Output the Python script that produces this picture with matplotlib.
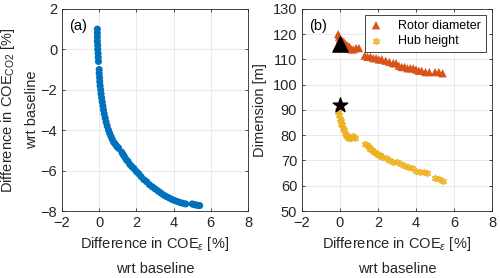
import numpy as np
import matplotlib.pyplot as plt

plt.rcParams['font.family'] = ['Liberation Sans', 'DejaVu Sans']
plt.rcParams['mathtext.fontset'] = 'custom'
plt.rcParams['mathtext.rm'] = 'Liberation Sans'
plt.rcParams['mathtext.it'] = 'Liberation Sans:italic'

# (a) COE_eur vs COE_CO2 difference
coe_eur_a = [-0.1, -0.1, -0.1, -0.1, -0.08, -0.08, -0.06, -0.05, -0.04,
             0.0, 0.0, 0.02, 0.03, 0.05, 0.08, 0.1, 0.13, 0.16, 0.2, 0.23, 0.27,
             0.32, 0.37, 0.43, 0.5, 0.56, 0.63, 0.7, 0.78, 0.87, 0.95, 1.0, 1.05,
             1.22, 1.28, 1.35, 1.45, 1.55, 1.65, 1.75, 1.87, 2.0, 2.12, 2.25, 2.4,
             2.55, 2.7, 2.85, 3.0, 3.15, 3.3, 3.45, 3.6, 3.75, 3.9, 4.05, 4.2,
             4.35, 4.5, 4.65, 5.0, 5.1, 5.2, 5.3, 5.4]
coe_co2_a = [1.0, 0.8, 0.6, 0.4, 0.2, 0.0, -0.2, -0.4, -0.6,
             -1.0, -1.2, -1.4, -1.6, -1.8, -2.0, -2.2, -2.4, -2.6, -2.8, -3.0, -3.2,
             -3.4, -3.6, -3.8, -4.0, -4.15, -4.3, -4.45, -4.6, -4.7, -4.8, -4.85, -4.9,
             -5.1, -5.2, -5.3, -5.45, -5.55, -5.7, -5.8, -5.9, -6.05, -6.15, -6.3, -6.45,
             -6.55, -6.7, -6.8, -6.9, -7.0, -7.1, -7.2, -7.28, -7.35, -7.42, -7.48, -7.53,
             -7.58, -7.62, -7.65, -7.65, -7.68, -7.7, -7.72, -7.73]

# (b) rotor diameter
coe_eur_rd = [-0.1, -0.05, 0.0, 0.1, 0.2, 0.3, 0.4, 0.5, 0.6, 0.7, 0.85, 1.0,
              1.3, 1.45, 1.6, 1.75, 1.9, 2.05, 2.2, 2.4, 2.6, 2.8, 2.95, 3.1,
              3.25, 3.4, 3.55, 3.7, 3.85, 4.0, 4.15, 4.3, 4.5, 4.7, 5.0, 5.2, 5.4]
rotor_diam = [120, 119, 118, 117.5, 117, 116, 115.5, 115, 114, 114, 114.5, 114.5,
              111.5, 111, 111, 110.5, 110.5, 110, 110, 109.5, 109, 108.5, 108.5, 107.5,
              107, 107, 106.5, 106.5, 106.5, 106, 105.5, 105.5, 105, 105, 105, 105, 104.5]

# (b) hub height
coe_eur_hh = [-0.1, -0.08, -0.05, 0.0, 0.03, 0.07, 0.1, 0.15, 0.2, 0.25, 0.3, 0.35,
              0.4, 0.5, 0.6, 0.7, 0.8, 1.3, 1.4, 1.5, 1.6, 1.7, 1.8, 1.9, 2.0,
              2.1, 2.2, 2.4, 2.6, 2.8, 3.0, 3.2, 3.4, 3.6, 3.8, 4.0, 4.2, 4.4,
              4.6, 5.0, 5.2, 5.4]
hub_height = [90, 89, 88, 86.5, 85.5, 84.5, 84, 83, 82, 81, 80, 79.5,
              79, 79, 79, 79.5, 79, 76.5, 76, 75.5, 74.5, 74, 73.5, 73, 72,
              72, 71.5, 71, 70, 69.5, 69.5, 68.5, 68, 67.5, 67, 66, 65.5, 65.5,
              65, 63, 62.5, 62]

baseline_rd = (0, 116)
baseline_hh = (0, 92)

fig = plt.figure(figsize=(5, 2.78), dpi=100)
ax1 = fig.add_axes([0.124, 0.241, 0.372, 0.727])
ax2 = fig.add_axes([0.604, 0.241, 0.38, 0.727])

blue = '#0072BD'
orange = '#D95319'
yellow = '#EDB120'
tick_col = '#262626'

ax1.scatter(coe_eur_a, coe_co2_a, s=26, color=blue, edgecolors='none', zorder=3)
ax1.set_xlim(-2, 8)
ax1.set_ylim(-8, 2)
ax1.set_xticks([-2, 0, 2, 4, 6, 8])
ax1.set_yticks([-8, -6, -4, -2, 0, 2])
ax1.set_xlabel('Difference in COE$_{\\epsilon}$ [%]\nwrt baseline', linespacing=1.8)
ax1.set_ylabel('Difference in COE$_{\\mathrm{CO2}}$ [%]\nwrt baseline', linespacing=1.7,
               labelpad=1)
ax1.text(0.04, 0.95, '(a)', transform=ax1.transAxes, va='top', ha='left', fontsize=10.5)

ax2.scatter(coe_eur_rd, rotor_diam, s=36, marker='^', color=orange, edgecolors='none',
            zorder=3, label='Rotor diameter')
ax2.scatter(coe_eur_hh, hub_height, s=16, marker=(6, 2, 0), color=yellow,
            linewidths=1.3, alpha=0.85, zorder=3, label='Hub height')
ax2.scatter(*baseline_rd, s=120, marker='^', color='black', zorder=4)
ax2.scatter(*baseline_hh, s=120, marker='*', color='black', zorder=4)
ax2.set_xlim(-2, 8)
ax2.set_ylim(50, 130)
ax2.set_xticks([-2, 0, 2, 4, 6, 8])
ax2.set_yticks(np.arange(50, 131, 10))
ax2.set_xlabel('Difference in COE$_{\\epsilon}$ [%]\nwrt baseline', linespacing=1.8)
ax2.set_ylabel('Dimension [m]')
ax2.text(0.04, 0.95, '(b)', transform=ax2.transAxes, va='top', ha='left', fontsize=10.5)
leg = ax2.legend(loc='upper right', fontsize=9, frameon=True, fancybox=False,
                 edgecolor='#262626', framealpha=1, handletextpad=1.3,
                 handlelength=1.0, borderpad=0.35, labelspacing=0.3,
                 borderaxespad=0.5)
leg.get_frame().set_linewidth(0.6)

for ax in (ax1, ax2):
    ax.grid(True, color='#e6e6e6', linewidth=0.6)
    ax.set_axisbelow(True)
    ax.tick_params(direction='in', length=2.5, labelsize=10.5, colors=tick_col,
                   top=True, right=True, width=0.6)
    for s in ax.spines.values():
        s.set_color(tick_col)
        s.set_linewidth(0.6)
    ax.xaxis.label.set_size(10.5)
    ax.yaxis.label.set_size(10.5)
    ax.xaxis.label.set_color(tick_col)
    ax.yaxis.label.set_color(tick_col)

fig.savefig('out.png', dpi=100)
